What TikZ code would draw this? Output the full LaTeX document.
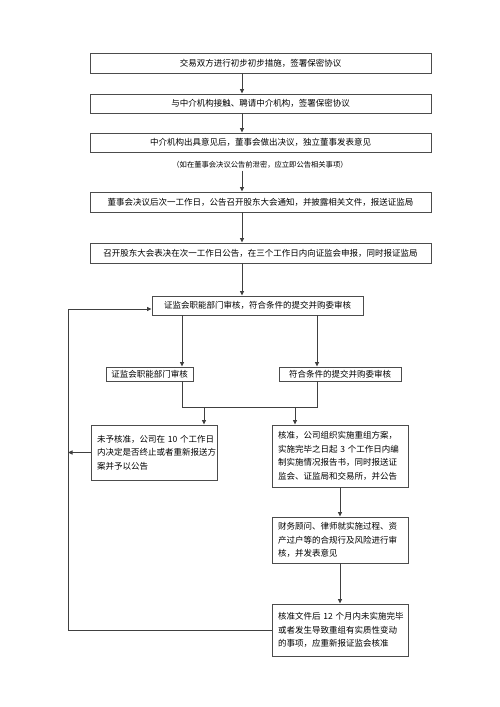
\documentclass[tikz,border=0pt]{standalone}
\usepackage{fontspec}
\newfontfamily\cjk{Noto Sans CJK SC}
\usetikzlibrary{arrows.meta}
\tikzset{
    flowbox/.style={draw=black!70, line width=0.9pt, inner sep=0pt,
        font=\cjk\fontsize{8.5}{13.6}\selectfont},
    widebox/.style={flowbox, minimum width=341pt, minimum height=20pt},
    stepbox/.style={flowbox, inner xsep=6pt, align=left},
    flowline/.style={draw=black!75, line width=0.9pt},
    flowarrow/.style={flowline, -{Triangle[length=4.5pt,width=4pt]}},
}

\begin{document}
\begin{tikzpicture}[x=1pt, y=-1pt]
\useasboundingbox (0,0) rectangle (500,707);
% top column
\node[widebox] (prep) at (260.5,63) {交易双方进行初步初步措施，签署保密协议};
\node[widebox, minimum height=19pt] (agent) at (260.5,103.5) {与中介机构接触、聘请中介机构，签署保密协议};
\node[widebox, minimum height=19pt] (board) at (260.5,142.5) {中介机构出具意见后，董事会做出决议，独立董事发表意见};
\node[font=\cjk\fontsize{7.3}{9}\selectfont, inner sep=0pt] (leak) at (260,165) {（如在董事会决议公告前泄密，应立即公告相关事项）};
\node[widebox] (notice) at (260.5,202) {董事会决议后次一工作日，公告召开股东大会通知，并披露相关文件，报送证监局};
\node[widebox] (vote) at (260.5,253) {召开股东大会表决在次一工作日公告，在三个工作日内向证监会申报，同时报证监局};
\coordinate (colx) at (242,0);
\draw[flowarrow] (prep.south -| colx) -- (agent.north -| colx);
\draw[flowarrow] (agent.south -| colx) -- (board.north -| colx);
\draw[flowarrow] ([yshift=-2pt]leak.south -| colx) -- (notice.north -| colx);
\draw[flowarrow] (notice.south -| colx) -- (vote.north -| colx);
% review
\node[flowbox, minimum width=211pt, minimum height=19pt] (csrc) at (257.5,305.5) {证监会职能部门审核，符合条件的提交并购委审核};
\draw[flowarrow] (vote.south -| colx) -- (csrc.north -| colx);
\node[flowbox, minimum width=87pt, minimum height=14pt] (dept) at (149.5,374) {证监会职能部门审核};
\node[flowbox, minimum width=122pt, minimum height=14pt] (panel) at (340,374) {符合条件的提交并购委审核};
\coordinate (lx) at (182,0);
\coordinate (rx) at (317,0);
\draw[flowarrow] (csrc.south -| lx) -- (dept.north -| lx);
\draw[flowarrow] (csrc.south -| rx) -- (panel.north -| rx);
\coordinate (mergel) at (182,407);
\coordinate (merger) at (317,407);
\draw[flowline] (dept.south -| lx) -- (mergel) -- (merger) -- (panel.south -| rx);
% results
\node[stepbox, text width=114pt, minimum height=55pt] (reject) at (154,452.5)
    {未予核准，公司在~10~个工作日\\内决定是否终止或者重新报送方\\案并予以公告};
\node[stepbox, text width=124pt, minimum height=62pt] (approve) at (340,456)
    {核准，公司组织实施重组方案，\\实施完毕之日起~3~个工作日内编\\制实施情况报告书，同时报送证\\监会、证监局和交易所，并公告};
\node[stepbox, text width=124pt, minimum height=46pt] (advisor) at (340,540)
    {财务顾问、律师就实施过程、资\\产过户等的合规行及风险进行审\\核，并发表意见};
\node[stepbox, text width=124pt, minimum height=52pt] (redo) at (340,630)
    {核准文件后~12~个月内未实施完毕\\或者发生导致重组有实质性变动\\的事项，应重新报证监会核准};
\coordinate (downl) at (204,407);
\coordinate (downr) at (295,407);
\draw[flowarrow] (downl) -- (downl |- reject.north);
\draw[flowarrow] (downr) -- (downr |- approve.north);
\draw[flowarrow] (approve.south) -- (advisor.north);
\draw[flowarrow] (advisor.south) -- (redo.north);
% feedback loop
\coordinate (loopx) at (68,0);
\coordinate (entry) at ([yshift=-3.5pt]csrc.west);
\draw[flowarrow] (reject.west) -- (reject.west -| loopx);
\draw[flowarrow] (redo.west) -- (redo.west -| loopx) -- (loopx |- entry) -- (entry);
\end{tikzpicture}
\end{document}
